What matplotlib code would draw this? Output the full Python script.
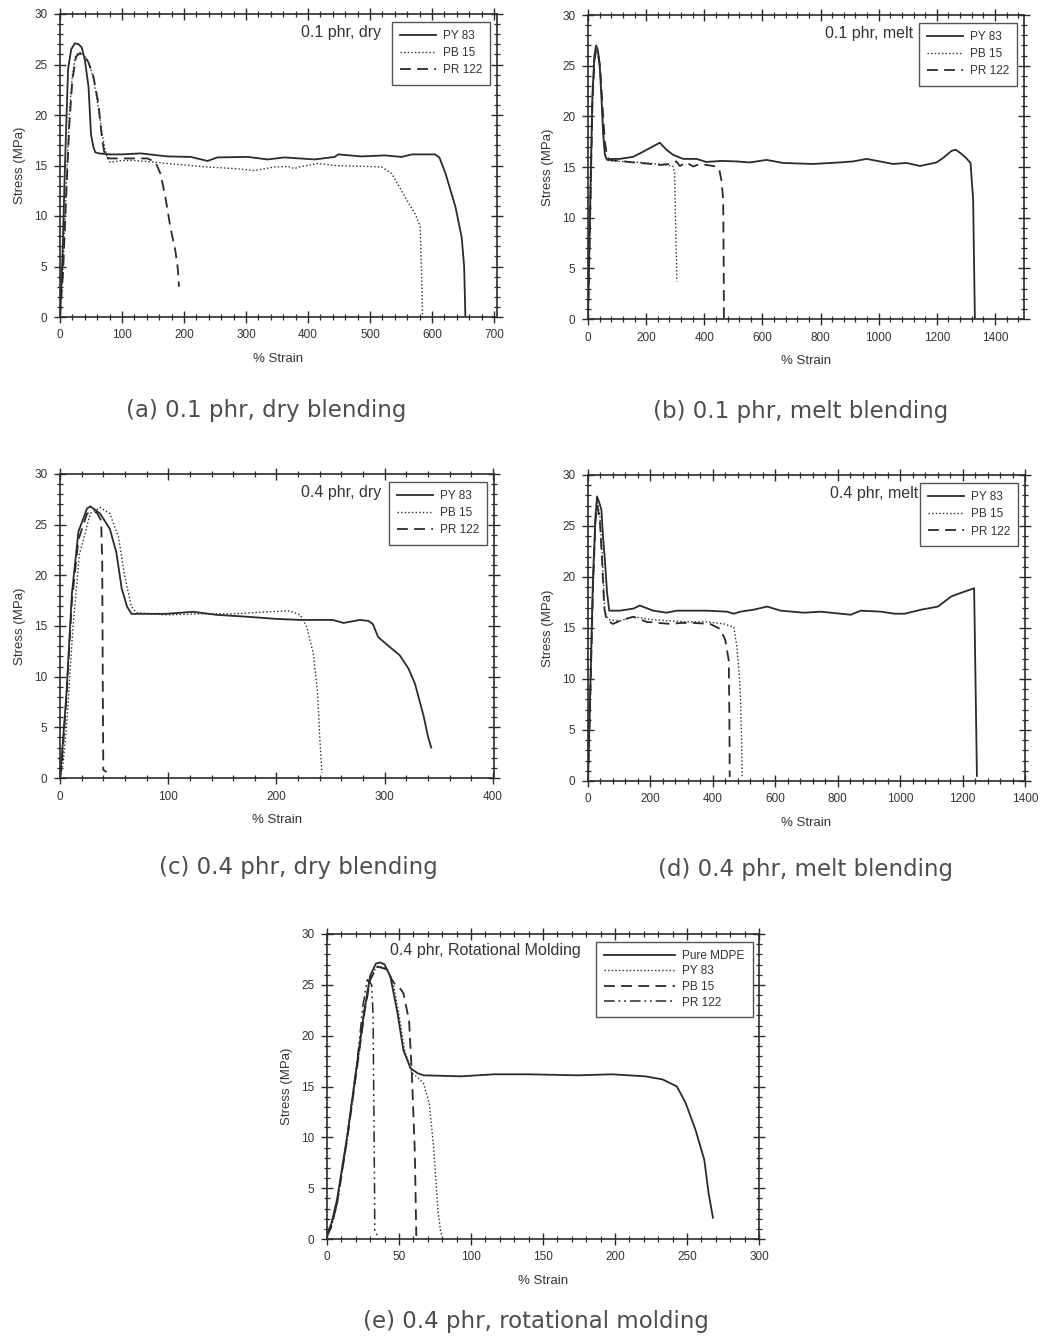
import matplotlib
matplotlib.use("Agg")
import matplotlib.pyplot as plt
from matplotlib.ticker import MultipleLocator

plt.rcParams["font.family"] = ["Liberation Sans", "DejaVu Sans"]

# ---------------- data: (strain %, stress MPa) ----------------
# (a) 0.1 phr, dry blending
a_py83_strain = [0, 4, 8, 13, 18, 24, 30, 35, 40, 46, 50, 54, 57, 63, 70, 81, 100, 130, 173, 211,
                 238, 254, 303, 335, 362, 411, 443, 449, 486, 524, 551, 568, 605, 612, 622, 638, 648, 652, 654]
a_py83_stress = [0, 6, 15, 24.5, 26.5, 27.1, 27.0, 26.7, 25.5, 22.8, 18.1, 16.8, 16.3, 16.2, 16.15, 16.1, 16.1, 16.2, 15.9, 15.85,
                 15.45, 15.8, 15.85, 15.6, 15.8, 15.6, 15.85, 16.1, 15.9, 16.0, 15.85, 16.1, 16.1, 15.8, 14.2, 10.9, 7.9, 5.0, 0]
a_pb15_strain = [0, 5, 10, 15, 20, 25, 30, 36, 43, 50, 55, 59, 64, 68, 72, 76, 81, 100, 119, 151,
                 173, 238, 281, 314, 346, 368, 378, 389, 416, 443, 497, 519, 535, 551, 565, 573, 578, 581, 583, 585]
a_pb15_stress = [0, 5, 13, 20, 24, 25.8, 26.2, 26.1, 25.6, 24.5, 23.2, 21.8, 19.8, 18.2, 16.8, 15.8, 15.3, 15.5, 15.5, 15.35,
                 15.2, 14.85, 14.7, 14.5, 14.85, 14.9, 14.7, 14.9, 15.2, 15.0, 14.9, 14.85, 14.2, 12.5, 11.0, 10.2, 9.5, 8.9, 5.0, 0]
a_pr122_strain = [0, 5, 10, 15, 20, 26, 32, 40, 46, 54, 62, 68, 73, 81, 110, 141, 154, 162, 170, 178, 186, 190, 192]
a_pr122_stress = [0, 4.5, 12, 19, 23.5, 25.8, 26.1, 25.8, 25.2, 23.8, 21.1, 17.5, 15.8, 15.7, 15.7, 15.7, 15.35, 14.2, 11.9, 8.9, 6.6, 4.8, 3.0]

# (b) 0.1 phr, melt blending
b_py83_strain = [0, 8, 15, 22, 28, 34, 40, 46, 52, 58, 66, 80, 109, 155, 189, 247, 270, 293, 327, 373, 407, 460,
                 511, 557, 614, 671, 720, 775, 866, 912, 959, 1004, 1050, 1096, 1142, 1199, 1222, 1251, 1265, 1280,
                 1297, 1316, 1325, 1331]
b_py83_stress = [0, 12, 22, 26, 27, 26.5, 25.2, 22, 18.3, 16.2, 15.7, 15.8, 15.8, 16.0, 16.5, 17.4, 16.7, 16.2, 15.8, 15.8, 15.5, 15.6,
                 15.55, 15.45, 15.7, 15.4, 15.35, 15.3, 15.45, 15.55, 15.8, 15.55, 15.3, 15.4, 15.1, 15.45, 15.9, 16.6, 16.7, 16.4,
                 16.0, 15.4, 11.8, 0]
b_pb15_strain = [0, 8, 15, 22, 28, 34, 40, 48, 56, 63, 80, 109, 150, 201, 240, 270, 293, 298, 300, 302, 304, 306]
b_pb15_stress = [0, 11, 21, 25.5, 26.8, 26.3, 25, 21, 17, 15.7, 15.6, 15.55, 15.5, 15.4, 15.3, 15.2, 15.05, 14.4, 11.5, 8.5, 6.0, 3.7]
b_pr122_strain = [0, 8, 15, 22, 28, 34, 42, 50, 58, 66, 75, 110, 155, 200, 247, 280, 304, 316, 339, 362, 385, 407,
                  442, 452, 459, 465, 467, 467.5]
b_pr122_stress = [0, 11, 21, 25.5, 26.5, 26.2, 24.8, 21, 17.5, 16, 15.7, 15.6, 15.45, 15.35, 15.2, 15.3, 15.55, 15.1, 15.45, 15.05, 15.3, 15.2,
                  15.05, 14.7, 13.7, 11.8, 5.0, 0]

# (c) 0.4 phr, dry blending
c_py83_strain = [0, 1.5, 6, 11, 17, 25, 28, 37, 46, 52, 57, 62, 66, 74, 98, 123, 145, 175, 200, 222, 252, 262,
                 277, 285, 289, 294, 305, 314, 322, 328, 336, 340, 343]
c_py83_stress = [0, 1.8, 8.4, 18.2, 24.3, 26.6, 26.8, 26.1, 24.6, 22.3, 18.7, 16.9, 16.2, 16.2, 16.2, 16.4, 16.1, 15.9, 15.7, 15.6, 15.6, 15.3,
                 15.6, 15.5, 15.2, 13.9, 12.9, 12.1, 10.8, 9.3, 6.1, 4.1, 3.0]
c_pb15_strain = [0, 3, 6, 12, 18, 28, 37, 46, 54, 60, 66, 71, 98, 129, 160, 191, 212, 222, 228, 234, 238, 240, 242]
c_pb15_stress = [0, 1.5, 5.1, 14.9, 22.1, 26.1, 26.7, 26.1, 23.8, 19.8, 16.9, 16.3, 16.1, 16.2, 16.2, 16.4, 16.5, 16.1, 14.9, 12.3, 8.4, 4.0, 0.5]
c_pr122_strain = [0, 2, 6, 11, 17, 25, 30, 34, 38, 39, 39.5, 40, 43]
c_pr122_stress = [0, 2, 8, 17.5, 23.5, 26.1, 26.2, 26.2, 25.4, 21.5, 10, 0.8, 0.6]

# (d) 0.4 phr, melt blending
d_py83_strain = [0, 8, 16, 24, 29, 36, 43, 48, 54, 61, 68, 102, 145, 166, 209, 252, 284, 381, 445, 467, 488, 531,
                 574, 617, 692, 746, 810, 842, 874, 939, 982, 1014, 1068, 1121, 1164, 1200, 1237, 1246]
d_py83_stress = [0, 10, 20, 26, 27.9, 27.3, 26.6, 24, 21.7, 18.5, 16.7, 16.7, 16.9, 17.2, 16.7, 16.5, 16.7, 16.7, 16.6, 16.4, 16.6, 16.8,
                 17.1, 16.7, 16.5, 16.6, 16.4, 16.3, 16.7, 16.6, 16.4, 16.4, 16.8, 17.1, 18.1, 18.5, 18.9, 0.5]
d_pb15_strain = [0, 8, 16, 24, 30, 38, 46, 54, 62, 70, 102, 145, 209, 316, 381, 435, 467, 477, 483, 488, 492, 494]
d_pb15_stress = [0, 9, 19, 25.5, 27.3, 26, 22, 16.6, 16.0, 15.8, 15.7, 16.1, 15.8, 15.6, 15.6, 15.4, 15.1, 13.2, 11.0, 8.6, 4.0, 0.4]
d_pr122_strain = [0, 8, 16, 24, 30, 38, 46, 52, 59, 80, 110, 145, 188, 263, 300, 338, 391, 424, 440, 451, 453, 454]
d_pr122_stress = [0, 9, 19, 25.5, 27, 25.5, 21, 17, 15.8, 15.4, 15.8, 16.1, 15.6, 15.4, 15.5, 15.5, 15.4, 14.9, 13.8, 11.8, 6.0, 0.4]

# (e) 0.4 phr, rotational molding
e_mdpe_strain = [0, 3, 7, 14, 21, 26, 30, 34, 37, 40, 44, 49, 53, 58, 63, 67, 93, 116, 140, 174, 198, 221,
                 233, 243, 249, 256, 262, 265, 268]
e_mdpe_stress = [0.5, 1.5, 3.9, 10.1, 17.4, 22.6, 25.9, 27.1, 27.2, 27.0, 25.8, 22.2, 18.6, 16.8, 16.3, 16.1, 16.0, 16.2, 16.2, 16.1, 16.2, 16.0,
                 15.7, 15.0, 13.4, 10.7, 7.8, 4.5, 2.1]
e_py83_strain = [0, 3, 7, 14, 21, 26, 30, 34, 38, 42, 46, 50, 54, 59, 63, 67, 71, 74, 77, 79, 80]
e_py83_stress = [0.3, 1.3, 3.6, 9.8, 17.0, 22.3, 25.6, 26.7, 26.8, 26.5, 25.2, 22.0, 18.5, 16.3, 15.9, 15.3, 13.4, 9.1, 2.9, 0.6, 0.4]
e_pb15_strain = [0, 3, 7, 14, 21, 26, 30, 35, 42, 45, 47, 50, 53, 57, 59, 61, 62]
e_pb15_stress = [0.3, 1.2, 3.5, 9.8, 17.0, 22.3, 25.5, 26.8, 26.5, 25.5, 25.1, 24.8, 24.2, 21.5, 16.0, 8.5, 0.3]
e_pr122_strain = [0, 3, 7, 14, 21, 25, 28, 31, 32, 33, 33.2, 35]
e_pr122_stress = [0.3, 1.2, 3.5, 10, 17.5, 23, 25.5, 25.0, 22, 5, 0.6, 0.4]

legend_three = ["PY 83", "PB 15", "PR 122"]
legend_four = ["Pure MDPE", "PY 83", "PB 15", "PR 122"]
captions = ["(a) 0.1 phr, dry blending", "(b) 0.1 phr, melt blending",
            "(c) 0.4 phr, dry blending", "(d) 0.4 phr, melt blending",
            "(e) 0.4 phr, rotational molding"]
tags = ["0.1 phr, dry", "0.1 phr, melt", "0.4 phr, dry", "0.4 phr, melt",
        "0.4 phr, Rotational Molding"]

# ---------------- styling ----------------
W, H = 1042, 1338
INK = "#2b2b2b"
STY_SOLID = dict(ls="-", lw=1.3)
STY_DOT = dict(ls=(0, (1, 1.6)), lw=1.0)
STY_DASH = dict(ls=(0, (6, 3.5)), lw=1.3)
STY_DDOT = dict(ls=(0, (7, 2.5, 1.2, 2.5, 1.2, 2.5)), lw=1.1)

fig = plt.figure(figsize=(W / 100, H / 100), dpi=100)


def make_axes(x0, y0, x1, y1):
    return fig.add_axes([x0 / W, 1 - y1 / H, (x1 - x0) / W, (y1 - y0) / H])


def dress(ax, xmax, xmajor, xminor, xtop):
    ax.set_xlim(0, xtop)
    ax.set_ylim(0, 30)
    ax.xaxis.set_major_locator(MultipleLocator(xmajor))
    ax.xaxis.set_minor_locator(MultipleLocator(xminor))
    ax.yaxis.set_major_locator(MultipleLocator(5))
    ax.yaxis.set_minor_locator(MultipleLocator(1))
    ticks = [t for t in range(0, xmax + 1, xmajor)]
    ax.set_xticks(ticks)
    ax.set_xticklabels([str(t) for t in ticks])
    ax.tick_params(which="both", direction="inout", top=True, right=True,
                   colors=INK, labelcolor="#333333", labelsize=8.5)
    ax.tick_params(which="major", length=8, width=1.0, pad=5)
    ax.tick_params(which="minor", length=5, width=0.9)
    for s in ax.spines.values():
        s.set_color(INK)
        s.set_linewidth(1.2)
    ax.set_xlabel("% Strain", fontsize=9.5, color="#333333", labelpad=8)
    ax.set_ylabel("Stress (MPa)", fontsize=9.5, color="#333333", labelpad=6)


def add_legend(ax, handles, labels, hl, fs, spacing):
    leg = ax.legend(handles, labels, loc="upper right", bbox_to_anchor=(0.985, 0.975),
                    frameon=True, fancybox=False, edgecolor=INK, fontsize=fs,
                    handlelength=hl, handletextpad=0.6, labelspacing=spacing,
                    borderpad=0.7, borderaxespad=0.0)
    leg.get_frame().set_linewidth(1.0)
    for t in leg.get_texts():
        t.set_color("#333333")


def three_panel(box, data, xmax, xmajor, xminor, xtop, tag, tag_x):
    ax = make_axes(*box)
    (s1, y1), (s2, y2), (s3, y3) = data
    h1, = ax.plot(s1, y1, color=INK, **STY_SOLID)
    h2, = ax.plot(s2, y2, color=INK, **STY_DOT)
    h3, = ax.plot(s3, y3, color=INK, **STY_DASH)
    dress(ax, xmax, xmajor, xminor, xtop)
    add_legend(ax, [h1, h2, h3], legend_three, 3.0, 8.5, 0.45)
    ax.text(tag_x, 0.94, tag, transform=ax.transAxes, ha="right", va="center",
            fontsize=11.5, color="#333333", zorder=5)
    return ax


three_panel((60, 14, 497, 317),
            [(a_py83_strain, a_py83_stress), (a_pb15_strain, a_pb15_stress), (a_pr122_strain, a_pr122_stress)],
            700, 100, 20, 705, tags[0], 0.735)
three_panel((588, 15, 1024, 319),
            [(b_py83_strain, b_py83_stress), (b_pb15_strain, b_pb15_stress), (b_pr122_strain, b_pr122_stress)],
            1400, 200, 40, 1500, tags[1], 0.745)
three_panel((60, 474, 494, 778),
            [(c_py83_strain, c_py83_stress), (c_pb15_strain, c_pb15_stress), (c_pr122_strain, c_pr122_stress)],
            400, 100, 20, 401, tags[2], 0.74)
three_panel((588, 475, 1025, 781),
            [(d_py83_strain, d_py83_stress), (d_pb15_strain, d_pb15_stress), (d_pr122_strain, d_pr122_stress)],
            1400, 200, 40, 1400, tags[3], 0.755)

# rotational molding panel
ax_e = make_axes(327, 934, 759, 1239)
h1, = ax_e.plot(e_mdpe_strain, e_mdpe_stress, color=INK, **STY_SOLID)
h2, = ax_e.plot(e_py83_strain, e_py83_stress, color=INK, **STY_DOT)
h3, = ax_e.plot(e_pb15_strain, e_pb15_stress, color=INK, **STY_DASH)
h4, = ax_e.plot(e_pr122_strain, e_pr122_stress, color=INK, **STY_DDOT)
dress(ax_e, 300, 50, 10, 300)
add_legend(ax_e, [h1, h2, h3, h4], legend_four, 6.0, 8.5, 0.3)
ax_e.text(0.145, 0.945, tags[4], transform=ax_e.transAxes, ha="left", va="center",
          fontsize=11.5, color="#333333")

# captions under each panel (x centre, baseline y)
cap_pos = [(266, 417), (801, 418), (298, 874), (805, 876), (536, 1328)]
for (cx, cy), cap in zip(cap_pos, captions):
    fig.text(cx / W, 1 - cy / H, cap, ha="center", va="baseline", fontsize=16.5,
             family="DejaVu Sans", color="#4d4d4d")

fig.savefig("out.png", dpi=100, facecolor="white")
